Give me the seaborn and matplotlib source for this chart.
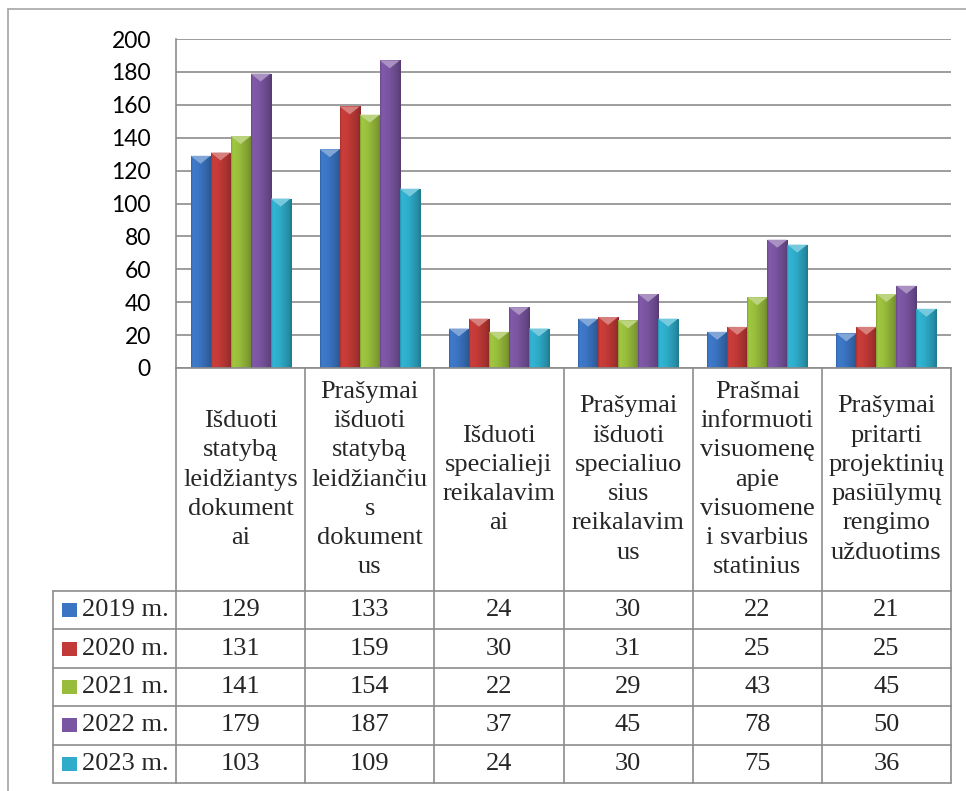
import numpy as np
import pandas as pd
import seaborn as sns
import matplotlib.pyplot as plt
import matplotlib.transforms as mtransforms
from matplotlib.patches import Rectangle, Polygon
from matplotlib.lines import Line2D
from matplotlib.colors import to_rgb

sns.set_style('white')
plt.rcParams['font.family'] = ['Lato', 'DejaVu Sans']

kategorijos = [
    'Išduoti\nstatybą\nleidžiantys\ndokument\nai',
    'Prašymai\nišduoti\nstatybą\nleidžiančiu\ns\ndokument\nus',
    'Išduoti\nspecialieji\nreikalavim\nai',
    'Prašymai\nišduoti\nspecialiuo\nsius\nreikalavim\nus',
    'Prašmai\ninformuoti\nvisuomenę\napie\nvisuomene\ni svarbius\nstatinius',
    'Prašymai\npritarti\nprojektinių\npasiūlymų\nrengimo\nužduotims',
]
metai = ['2019 m.', '2020 m.', '2021 m.', '2022 m.', '2023 m.']
v2019 = [129, 133, 24, 30, 22, 21]
v2020 = [131, 159, 30, 31, 25, 25]
v2021 = [141, 154, 22, 29, 43, 45]
v2022 = [179, 187, 37, 45, 78, 50]
v2023 = [103, 109, 24, 30, 75, 36]
spalvos = ['#3b74c2', '#c23a37', '#98bd3c', '#7a55a1', '#2eacca']

reiksmes = [v2019, v2020, v2021, v2022, v2023]
df = pd.DataFrame({
    'kategorija': kategorijos * len(metai),
    'metai': np.repeat(metai, len(kategorijos)),
    'reiksme': np.concatenate(reiksmes),
})

W, H = 966, 791
fig = plt.figure(figsize=(W / 100, H / 100), dpi=100)
ax = fig.add_axes([176 / W, 1 - 368 / H, (951 - 176) / W, (368 - 39) / H])

sns.barplot(data=df, x='kategorija', y='reiksme', hue='metai', palette=spalvos,
            width=0.775, saturation=1, legend=False, ax=ax, linewidth=0)

ax.set_xlim(-0.5, len(kategorijos) - 0.5)
ax.set_ylim(0, 200)
ax.set_yticks(range(0, 201, 20))
ax.set_xticks([])
ax.set_xlabel('')
ax.set_ylabel('')
ax.tick_params(axis='y', length=0, pad=18, labelsize=16.5, colors='black')
ax.yaxis.grid(True, color='#8c8c8c', lw=1.2)
ax.set_axisbelow(True)
for s in ['top', 'right']:
    ax.spines[s].set_visible(False)
for s in ['left', 'bottom']:
    ax.spines[s].set_color('#8c8c8c')
    ax.spines[s].set_linewidth(1.2)

# bevel look on bars
gx = np.linspace(0, 1, 64)
f = np.interp(gx, [0, 0.08, 0.4, 0.85, 1], [0.85, 1.06, 1.0, 0.82, 0.7])
px_per_y = (368 - 39) / 200
for p in list(ax.patches):
    x0, y0, w, h = p.get_x(), p.get_y(), p.get_width(), p.get_height()
    base = np.array(to_rgb(p.get_facecolor()))
    img = np.clip(base[None, None, :] * f[None, :, None], 0, 1)
    im = ax.imshow(img, extent=[x0, x0 + w, y0, y0 + h], aspect='auto',
                   interpolation='bilinear', zorder=p.get_zorder() + 0.1)
    im.set_clip_path(p)
    d = 8 / px_per_y
    light = np.clip(base + (1 - base) * 0.35, 0, 1)
    ax.add_patch(Polygon([[x0, y0 + h], [x0 + w, y0 + h], [x0 + w / 2, y0 + h - d]],
                         closed=True, facecolor=light, edgecolor='none',
                         zorder=p.get_zorder() + 0.2))
ax.set_xlim(-0.5, len(kategorijos) - 0.5)
ax.set_ylim(0, 200)

# data table under the chart
bt = mtransforms.blended_transform_factory(ax.transData, fig.transFigure)
tf = fig.transFigure
lc = '#8c8c8c'
def fy(y):
    return 1 - y / H

top, head_bot, tab_bot = 368, 591, 783
row_h = (tab_bot - head_bot) / len(metai)
serif = ['Liberation Serif', 'DejaVu Serif']

for i in range(len(kategorijos) + 1):
    fig.add_artist(Line2D([i - 0.5, i - 0.5], [fy(top), fy(tab_bot)], color=lc, lw=1.2, transform=bt))
for k in range(len(metai) + 1):
    yy = fy(head_bot + k * row_h)
    fig.add_artist(Line2D([53 / W, 951 / W], [yy, yy], color=lc, lw=1.2, transform=tf))
fig.add_artist(Line2D([53 / W, 53 / W], [fy(head_bot), fy(tab_bot)], color=lc, lw=1.2, transform=tf))

for i, k in enumerate(kategorijos):
    fig.text(i, fy((top + head_bot) / 2), k, transform=bt, ha='center', va='center',
             multialignment='center', fontsize=19, family=serif, linespacing=1.43)

for r, (m, vals, c) in enumerate(zip(metai, reiksmes, spalvos)):
    yc = head_bot + (r + 0.5) * row_h
    fig.add_artist(Rectangle((62 / W, fy(yc + 7)), 15 / W, 14 / H, transform=tf,
                             facecolor=c, edgecolor='none'))
    fig.text(82 / W, fy(yc), m, ha='left', va='center', fontsize=19, family=serif)
    for i, v in enumerate(vals):
        fig.text(i, fy(yc), str(v), transform=bt, ha='center', va='center',
                 fontsize=19, family=serif)

# outer frame (cut off at right and bottom)
fig.add_artist(Line2D([8 / W, 8 / W], [0, fy(9)], color='#a6a6a6', lw=1.2, transform=tf))
fig.add_artist(Line2D([8 / W, 1], [fy(9), fy(9)], color='#a6a6a6', lw=1.2, transform=tf))

fig.savefig('out.png', dpi=100)
